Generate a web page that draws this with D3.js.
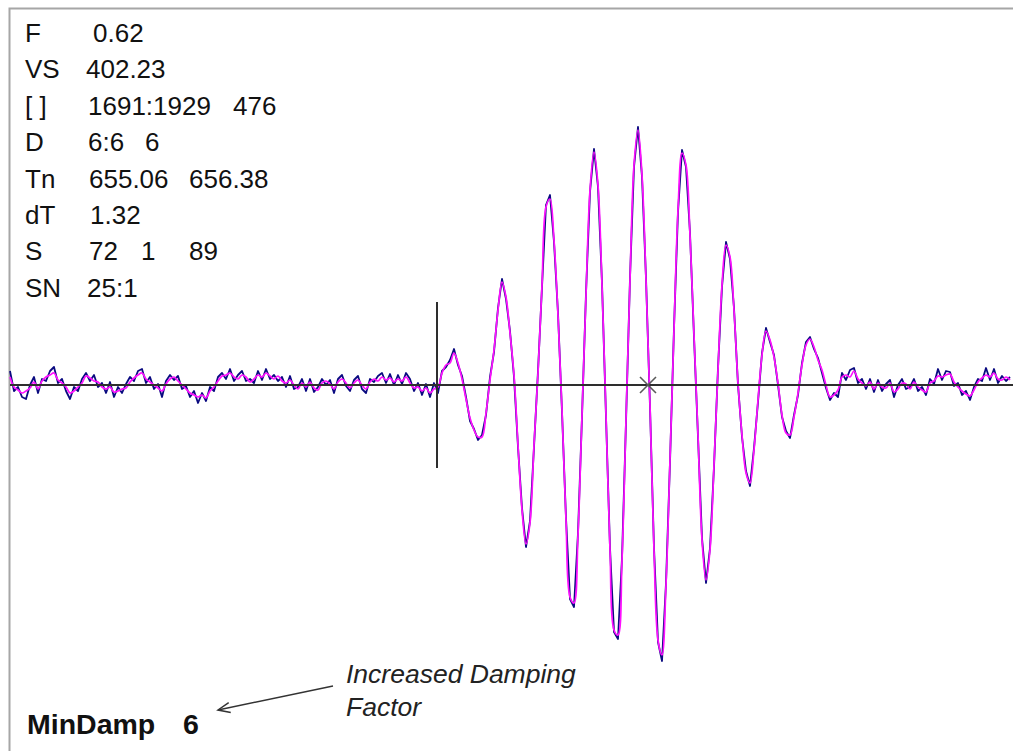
<!DOCTYPE html>
<html>
<head>
<meta charset="utf-8">
<script src="https://cdn.jsdelivr.net/npm/d3@7"></script>
<style>
  html, body { margin: 0; padding: 0; background: #ffffff; }
  svg { display: block; }
  text { font-family: "Liberation Sans", Arial, Helvetica, sans-serif; }
</style>
</head>
<body>
<svg id="chart" width="1013" height="751"></svg>
<script>
// ---- Data (sample index -> amplitude) ----
const filteredTrace = [
 8,-2,-5,-8,-6,-3,3,-4,4,8,10,12,5,2,-2,-8,-6,-2,2,9,
 7,4,3,-2,-4,-2,-7,-6,-4,-3,3,7,10,12,6,3,0,-3,-6,1,
 6,8,4,0,-4,-8,-10,-12,-10,-13,-6,-2,4,9,10,12,8,6,10,8,
 3,6,10,8,12,9,6,9,4,2,5,0,-4,2,-2,3,-3,-5,2,4,
 1,-4,3,6,2,-3,2,5,0,-4,3,6,4,8,5,7,3,6,4,8,
 2,-3,-2,-6,-3,-8,-4,-2,12,20,22,32,22,6,-14,-33,-45,-52,-52,-28,
 5,35,75,103,88,52,10,-60,-125,-159,-138,-60,12,100,178,186,145,70,-25,-135,
 -212,-218,-150,-30,90,195,233,200,100,-30,-165,-245,-250,-175,-35,105,220,255,210,105,
 -20,-165,-255,-270,-200,-75,55,175,232,220,150,50,-50,-155,-195,-165,-80,15,100,140,
 128,75,2,-50,-88,-98,-65,-15,30,54,45,28,2,-30,-48,-50,-32,-8,20,40,
 46,38,25,15,0,-12,-10,-5,8,10,8,14,6,2,-1,3,-4,2,-2,-3,
 2,-7,-4,2,1,-4,3,-2,-5,-7,2,4,9,8,10,11,3,-2,-6,-9,
 -11,-5,3,7,10,8,12,6,5,8,5
];
const rawTrace = [
 14,-6,-2,-12,-14,0,8,-8,6,4,14,18,2,6,-6,-14,-2,-6,6,12,
 4,10,-2,2,-8,3,-12,-2,-8,1,8,4,14,16,2,8,-4,1,-12,4,
 10,5,9,-4,-1,-12,-6,-18,-8,-16,-2,-6,8,12,6,16,4,10,14,4,
 6,2,14,5,16,6,10,4,8,-2,9,-4,-2,6,-6,6,-7,-2,6,0,
 5,-8,6,10,-1,-6,5,9,-4,-8,6,3,9,12,2,11,0,10,1,12,
 6,-6,2,-10,1,-12,2,-8,14,18,25,36,20,9,-12,-36,-44,-55,-50,-30,
 8,33,77,106,86,54,8,-62,-123,-162,-136,-62,14,98,180,190,143,72,-27,-133,
 -214,-222,-148,-32,92,193,236,198,102,-32,-163,-247,-254,-173,-37,107,218,258,208,107,
 -22,-163,-257,-276,-198,-77,57,173,235,218,152,48,-52,-153,-198,-163,-82,17,98,143,
 126,77,0,-52,-86,-101,-63,-17,32,57,43,30,0,-32,-46,-53,-30,-10,22,43,
 48,36,27,12,-3,-15,-8,-12,12,5,15,17,2,6,-4,6,-7,5,-6,1,
 5,-12,0,6,-4,-2,6,-6,-2,-10,6,1,16,5,14,13,-1,2,-10,-6,
 -15,-2,6,4,17,5,16,2,9,4,8
];
const cursorSample = 106.75;
const cursorSpan = [-83, 83];
const crossSample = 159.5;
const crossValue = 0;

const statLabels = ["F", "VS", "[ ]", "D", "Tn", "dT", "S", "SN"];
const statValues = [
  ["0.62"],
  ["402.23"],
  ["1691:1929", "476"],
  ["6:6", "6"],
  ["655.06", "656.38"],
  ["1.32"],
  ["72", "1", "89"],
  ["25:1"]
];
const minDampLabel = "MinDamp";
const minDampValue = "6";
const noteLines = ["Increased Damping", "Factor"];

// ---- Drawing ----
const svg = d3.select("#chart");
const N = filteredTrace.length;
const x = d3.scaleLinear().domain([0, N - 1]).range([10, 1010]);
const y = d3.scaleLinear().domain([-300, 300]).range([685, 85]);

svg.append("rect").attr("x", 0).attr("y", 0).attr("width", 1013).attr("height", 751).attr("fill", "#fff");

// frame
svg.append("path")
  .attr("d", "M9.5,760 L9.5,8.5 L1020,8.5")
  .attr("fill", "none").attr("stroke", "#a6a6a6").attr("stroke-width", 2);

const rawLine = d3.line().x((d, i) => x(i)).y(d => y(d)).curve(d3.curveLinear);
const filtLine = d3.line().x((d, i) => x(i)).y(d => y(d)).curve(d3.curveCatmullRom.alpha(0.5));

svg.append("path").datum(rawTrace)
  .attr("d", rawLine).attr("fill", "none")
  .attr("stroke", "#0a0a80").attr("stroke-width", 1.8).attr("stroke-linejoin", "round");
svg.append("path").datum(filteredTrace)
  .attr("d", filtLine).attr("fill", "none")
  .attr("stroke", "#ff10ff").attr("stroke-width", 1.7);

// zero axis
svg.append("line")
  .attr("x1", 10).attr("x2", 1013).attr("y1", y(0)).attr("y2", y(0))
  .attr("stroke", "#2e2e2e").attr("stroke-width", 2);

// cursor
svg.append("line")
  .attr("x1", x(cursorSample)).attr("x2", x(cursorSample))
  .attr("y1", y(cursorSpan[1])).attr("y2", y(cursorSpan[0]))
  .attr("stroke", "#2e2e2e").attr("stroke-width", 2);

// cross marker
const cx = x(crossSample), cy = y(crossValue), cs = 8;
svg.append("path")
  .attr("d", `M${cx - cs},${cy - cs}L${cx + cs},${cy + cs}M${cx - cs},${cy + cs}L${cx + cs},${cy - cs}`)
  .attr("stroke", "#5a5a5a").attr("stroke-width", 1.6).attr("fill", "none");

// stats text
const rowY0 = 42, rowStep = 36.4;
const valueX = [[93], [86], [88, 233], [88, 145], [89, 189], [90], [89, 141, 189], [87]];
statLabels.forEach((lab, r) => {
  const yy = rowY0 + r * rowStep;
  svg.append("text").attr("x", 25).attr("y", yy)
    .attr("font-size", 26).attr("fill", "#111").text(lab);
  statValues[r].forEach((v, k) => {
    svg.append("text").attr("x", valueX[r][k]).attr("y", yy)
      .attr("font-size", 26).attr("fill", "#111").text(v);
  });
});

// MinDamp
svg.append("text").attr("x", 27).attr("y", 734)
  .attr("font-size", 28.5).attr("font-weight", "bold").attr("fill", "#111").text(minDampLabel);
svg.append("text").attr("x", 183).attr("y", 734)
  .attr("font-size", 28.5).attr("font-weight", "bold").attr("fill", "#111").text(minDampValue);

// annotation
svg.append("text").attr("x", 346).attr("y", 683)
  .attr("font-size", 26.5).attr("font-style", "italic").attr("fill", "#222").text(noteLines[0]);
svg.append("text").attr("x", 346).attr("y", 716)
  .attr("font-size", 26.5).attr("font-style", "italic").attr("fill", "#222").text(noteLines[1]);

// arrow
const ax1 = 333, ay1 = 686, ax2 = 218, ay2 = 710;
svg.append("line").attr("x1", ax1).attr("y1", ay1).attr("x2", ax2).attr("y2", ay2)
  .attr("stroke", "#333").attr("stroke-width", 1.5);
const ang = Math.atan2(ay1 - ay2, ax1 - ax2), hl = 13, ha = 0.4;
svg.append("path")
  .attr("d", `M${ax2 + hl * Math.cos(ang - ha)},${ay2 + hl * Math.sin(ang - ha)}L${ax2},${ay2}L${ax2 + hl * Math.cos(ang + ha)},${ay2 + hl * Math.sin(ang + ha)}`)
  .attr("fill", "none").attr("stroke", "#333").attr("stroke-width", 1.5);
</script>
</body>
</html>
